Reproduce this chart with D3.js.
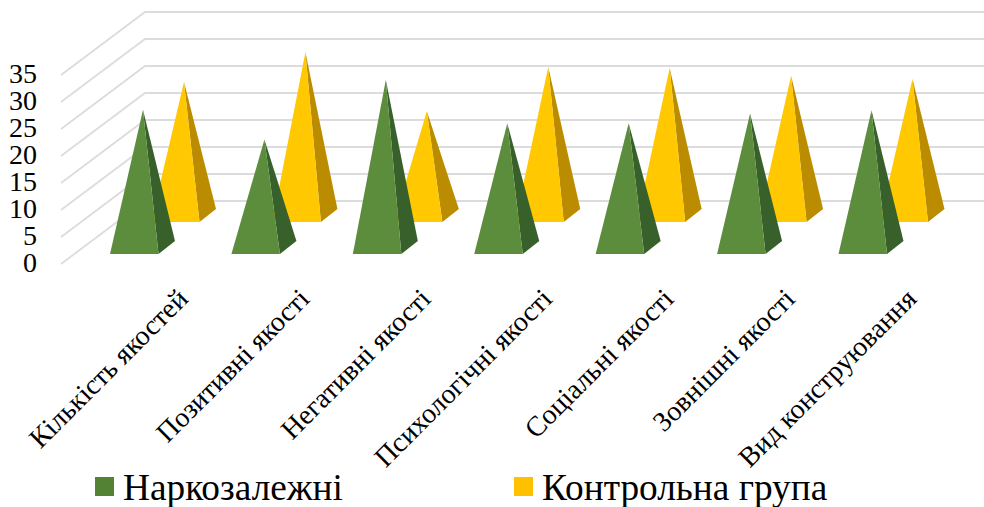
<!DOCTYPE html>
<html><head><meta charset="utf-8">
<script src="https://cdn.jsdelivr.net/npm/d3@7/dist/d3.min.js"></script>
<style>html,body{margin:0;background:#fff}svg{display:block}text{font-family:"Liberation Serif",serif;fill:#000}</style>
</head><body><svg id="c" width="984" height="507"></svg>
<script>
const categories = ["Кількість якостей","Позитивні якості","Негативні якості","Психологічні якості","Соціальні якості","Зовнішні якості","Вид конструювання"];
const addicts = [25.5,20,31,23,23,24.8,25.4];
const control = [24.7,30.3,19.3,27.5,27.3,25.9,25.3];
const seriesNames = ["Наркозалежні","Контрольна група"];
const yTicks = [0,5,10,15,20,25,30,35];

const svg = d3.select("#c");
const yFront = d3.scaleLinear().domain([0,35]).range([264,75]);
const yBack = d3.scaleLinear().domain([0,35]).range([201,12]);
const unit = d3.scaleLinear().domain([0,35]).range([0,189]);
const x = d3.scalePoint().domain(categories).range([143,871.5]);

// gridlines
const grid = svg.append("g").attr("fill","none").attr("stroke","#dcdcdc").attr("stroke-width",1.8);
grid.selectAll("path").data(yTicks).join("path")
  .attr("d",t=>`M61,${yFront(t)}L145,${yBack(t)}H984`);

// y axis
const axis = svg.append("g").attr("transform","translate(37,-1)")
  .call(d3.axisLeft(yFront).tickValues(yTicks).tickSize(0).tickPadding(0));
axis.select(".domain").remove();
axis.selectAll("text").attr("font-size",28).style("font-family",'"Liberation Serif",serif').attr("fill","#000");

// pyramids
function pyramids(values, dx, frontY, front, side){
  const g = svg.append("g");
  const W = 48.5, DX = 16.5, DY = 13;
  categories.forEach((c,i)=>{
    const cx = x(c)+dx, l = cx-33, r = l+W;
    const baseCy = frontY-DY/2;
    const top = [cx, baseCy-unit(values[i])];
    g.append("path").attr("fill",side)
      .attr("d",`M${r},${frontY}L${r+DX},${frontY-DY}L${top}Z`);
    g.append("path").attr("fill",front)
      .attr("d",`M${l},${frontY}L${r},${frontY}L${top}Z`);
  });
}
pyramids(control,41,222,"#ffc800","#bc8c00");
pyramids(addicts,0,254,"#5c8d3c","#38602a");

// category labels
svg.append("g").selectAll("text").data(categories).join("text")
  .attr("text-anchor","end").attr("font-size",28)
  .attr("transform",c=>`translate(${x(c)+46.5},${300.5}) rotate(-45)`)
  .text(c=>c);

// legend
const lg = svg.append("g").selectAll("g").data(seriesNames).join("g")
  .attr("transform",(d,i)=>`translate(${[95,514][i]},477)`);
lg.append("rect").attr("width",19).attr("height",19).attr("fill",(d,i)=>["#548235","#ffc000"][i]);
lg.append("text").attr("x",28).attr("y",23).attr("font-size",37.3).text(d=>d);
</script></body></html>
